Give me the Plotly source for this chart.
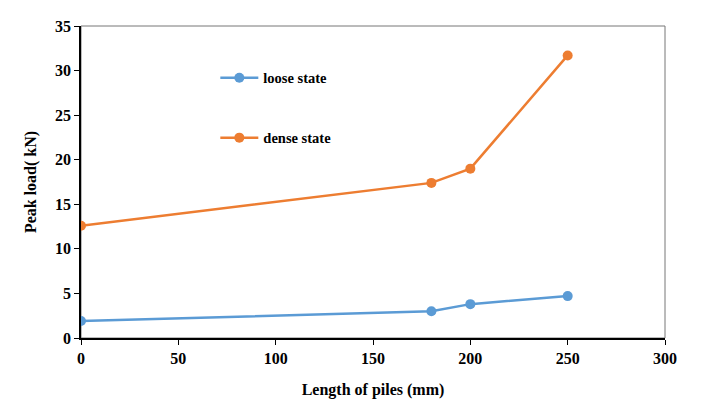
import plotly.graph_objects as go

pile_length = [0, 180, 200, 250]
loose_state = [1.9, 3.0, 3.8, 4.7]
dense_state = [12.6, 17.4, 19.0, 31.7]

x_ticks = [0, 50, 100, 150, 200, 250, 300]
y_ticks = [0, 5, 10, 15, 20, 25, 30, 35]

font_family = "Liberation Serif"

fig = go.Figure()
fig.add_trace(go.Scatter(
    x=pile_length, y=loose_state, name="<b>loose state</b>", mode="lines+markers",
    line=dict(color="#5B9BD5", width=2.5), marker=dict(size=10, color="#5B9BD5"),
    legendgroup="a"))
fig.add_trace(go.Scatter(
    x=pile_length, y=dense_state, name="<b>dense state</b>", mode="lines+markers",
    line=dict(color="#ED7D31", width=2.5), marker=dict(size=10, color="#ED7D31"),
    legendgroup="b"))

fig.update_layout(
    width=707, height=402,
    margin=dict(l=73, r=50, t=18, b=72, autoexpand=False),
    paper_bgcolor="white", plot_bgcolor="white",
    font=dict(family=font_family, size=16, color="black"),
    legend=dict(x=0.23, y=0.885, xanchor="left", yanchor="top", itemwidth=38,
                bgcolor="rgba(0,0,0,0)", traceorder="grouped", tracegroupgap=38,
                font=dict(family=font_family, size=14.5, color="black")),
    xaxis=dict(range=[0, 300], tickvals=x_ticks, ticktext=[f"<b>{v}</b>" for v in x_ticks],
               showgrid=False, zeroline=False, showline=True, linecolor="black", linewidth=1.5,
               ticks="outside", ticklen=5, tickcolor="black", tickfont=dict(size=16),
               title=dict(text="<b>Length of piles (mm)</b>", standoff=18, font=dict(size=16))),
    yaxis=dict(range=[0, 35], tickvals=y_ticks, ticktext=[f"<b>{v}</b>" for v in y_ticks],
               showgrid=False, zeroline=False, showline=True, linecolor="black", linewidth=1.5,
               ticks="outside", ticklen=5, tickcolor="black", tickfont=dict(size=16),
               title=dict(text="<b>Peak load( kN)</b>", standoff=14, font=dict(size=16))),
    shapes=[dict(type="rect", xref="paper", yref="paper", x0=0, y0=0, x1=1, y1=1,
                 line=dict(color="#777777", width=1), layer="below")],
)

fig.write_html("out.html")
